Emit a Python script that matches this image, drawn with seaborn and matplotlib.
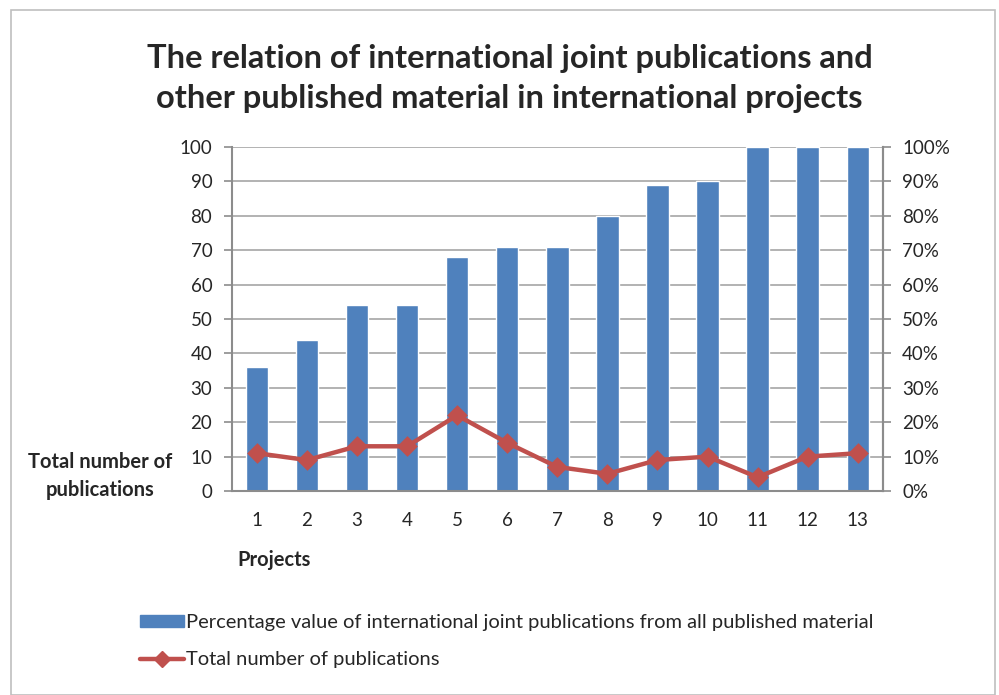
import matplotlib
matplotlib.use("Agg")
import matplotlib.pyplot as plt
import seaborn as sns
import pandas as pd
from matplotlib.ticker import PercentFormatter, FixedLocator, NullFormatter
from matplotlib.patches import Rectangle
from matplotlib.lines import Line2D

# data
projects = ["1", "2", "3", "4", "5", "6", "7", "8", "9", "10", "11", "12", "13"]
pct_joint = [36, 44, 54, 54, 68, 71, 71, 80, 89, 90, 100, 100, 100]
total_pubs = [11, 9, 13, 13, 22, 14, 7, 5, 9, 10, 4, 10, 11]

bar_label = "Percentage value of international joint publications from all published material"
line_label = "Total number of publications"

df = pd.DataFrame({"project": projects, "pct": pct_joint, "total": total_pubs})

sns.set_style("white")
plt.rcParams["font.family"] = ["Lato", "DejaVu Sans"]

blue = "#4F81BD"
red = "#C0504D"
grey = "#8C8C8C"
text_col = "#262626"
tick_fs = 13.5

fig = plt.figure(figsize=(9.99, 6.95), dpi=100)
ax = fig.add_axes([0.232, 0.2935, 0.6517, 0.495])

# bars: percentage, drawn against 0-100 scale (same as right axis 0-100%)
sns.barplot(data=df, x="project", y="pct", color=blue, width=0.45,
            saturation=1, ax=ax, zorder=2)
# line: total number of publications
sns.pointplot(data=df, x="project", y="total", color=red, markers="D",
              markersize=8.5, linewidth=3.2, ax=ax, zorder=3)

ax.set_ylim(0, 100)
ax.set_xlim(-0.5, len(projects) - 0.5)
ax.set_yticks(range(0, 101, 10))
ax.yaxis.grid(True, color="#A6A6A6", linewidth=1.2, zorder=0)
ax.set_axisbelow(True)
ax.set_xlabel("")
ax.set_ylabel("")

# category-boundary ticks on x (Excel style), labels at centers
ax.xaxis.set_major_locator(FixedLocator([i - 0.5 for i in range(len(projects) + 1)]))
ax.xaxis.set_major_formatter(NullFormatter())
ax.xaxis.set_minor_locator(FixedLocator(list(range(len(projects)))))
ax.set_xticklabels(projects, minor=True)
ax.tick_params(axis="x", which="major", direction="out", length=6, width=1.2, color=grey)
ax.tick_params(axis="x", which="minor", length=0, pad=15, labelsize=tick_fs, labelcolor=text_col)
ax.tick_params(axis="y", direction="out", length=6, width=1.2, color=grey,
               labelsize=tick_fs, labelcolor=text_col, pad=8)

ax.spines["top"].set_visible(False)
for s in ["left", "bottom", "right"]:
    ax.spines[s].set_color(grey)
    ax.spines[s].set_linewidth(1.5)

ax2 = ax.twinx()
ax2.set_ylim(0, 1)
ax2.set_yticks([i / 10 for i in range(11)])
ax2.yaxis.set_major_formatter(PercentFormatter(1.0, decimals=0))
ax2.tick_params(axis="y", direction="out", length=6, width=1.2, color=grey,
                labelsize=tick_fs, labelcolor=text_col, pad=8)
for s in ["top", "left", "bottom"]:
    ax2.spines[s].set_visible(False)
ax2.spines["right"].set_color(grey)
ax2.spines["right"].set_linewidth(1.5)

# titles and axis texts
fig.text(0.51, 0.887, "The relation of international joint publications and\n"
         "other published material in international projects",
         ha="center", va="center", fontsize=23.5, fontweight="bold",
         color=text_col, linespacing=1.45)
fig.text(0.1, 0.315, "Total number of\npublications", ha="center", va="center",
         fontsize=14.5, fontweight="bold", color=text_col, linespacing=1.45)
fig.text(0.274, 0.194, "Projects", ha="center", va="center",
         fontsize=14.5, fontweight="bold", color=text_col)

# legend
handles = [Rectangle((0, 0), 1, 1, color=blue),
           Line2D([0], [0], color=red, marker="D", markersize=8.5, linewidth=3.2)]
fig.legend(handles, [bar_label, line_label], loc="upper left",
           bbox_to_anchor=(0.132, 0.128), frameon=False, fontsize=14.5,
           handlelength=2.2, handleheight=0.5, handletextpad=0.1, labelspacing=1.0,
           labelcolor=text_col, borderaxespad=0)

# chart frame
fig.patches.append(Rectangle((0.011, 0.0), 0.985, 0.985, transform=fig.transFigure,
                             fill=False, edgecolor="#BFBFBF", linewidth=1.2))

fig.savefig("out.png", dpi=100, facecolor="white")
